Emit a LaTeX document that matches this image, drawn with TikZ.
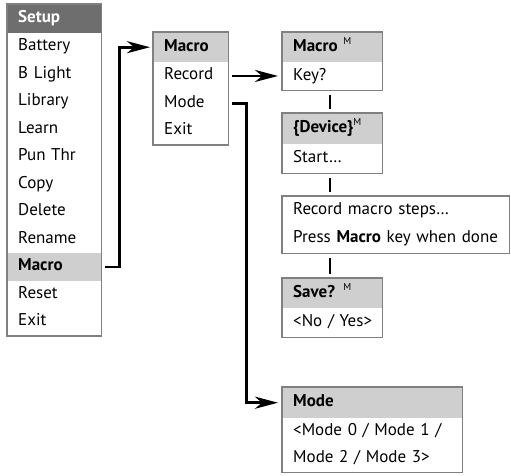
\documentclass[tikz,border=0pt]{standalone}
\usepackage{fontspec}
\setmainfont{PT Sans}
\usetikzlibrary{arrows.meta,fit,calc}
\definecolor{hdrdark}{HTML}{6E6E6E}
\definecolor{hdrlight}{HTML}{CFCFCF}
\definecolor{boxline}{HTML}{808080}
\newcommand{\supM}{\raisebox{0.42em}{\fontsize{10}{10}\selectfont\mdseries M}}
\begin{document}
\begin{tikzpicture}[x=1pt,y=-1pt,
  cell/.style={anchor=north west, inner xsep=11pt, inner ysep=0pt, align=left,
    font=\fontsize{17}{19}\selectfont, text height=12pt, text depth=4pt,
    execute at begin node={\leavevmode\hbox\bgroup}, execute at end node={\egroup}},
  hdr/.style={cell, fill=hdrlight, font=\fontsize{17}{19}\selectfont\bfseries},
  hdrdk/.style={hdr, fill=hdrdark, text=white},
  sel/.style={cell, fill=hdrlight, font=\fontsize{17}{19}\selectfont\bfseries},
  outline/.style={draw=boxline, line width=1.3pt, inner sep=0pt, fill=none},
  conn/.style={draw=black, line width=2.8pt, line cap=butt, line join=miter},
  arr/.style={conn, -{Stealth[length=23pt, width=12pt, inset=7pt]}}
]
\useasboundingbox (0,0) rectangle (511,475);
% Setup menu
\node[hdrdk, text width=72pt, minimum height=29pt] (sH) at (7,4) {Setup};
\node[cell, text width=72pt, minimum height=27.5pt] (s1) at (7,33) {Battery};
\node[cell, text width=72pt, minimum height=27.5pt] (s2) at (7,60.5) {B Light};
\node[cell, text width=72pt, minimum height=27.5pt] (s3) at (7,88) {Library};
\node[cell, text width=72pt, minimum height=27.5pt] (s4) at (7,115.5) {Learn};
\node[cell, text width=72pt, minimum height=27.5pt] (s5) at (7,143) {Pun Thr};
\node[cell, text width=72pt, minimum height=27.5pt] (s6) at (7,170.5) {Copy};
\node[cell, text width=72pt, minimum height=27.5pt] (s7) at (7,198) {Delete};
\node[cell, text width=72pt, minimum height=27.5pt] (s8) at (7,225.5) {Rename};
\node[sel, text width=72pt, minimum height=27.5pt] (s9) at (7,253) {Macro};
\node[cell, text width=72pt, minimum height=27.5pt] (s10) at (7,280.5) {Reset};
\node[cell, text width=72pt, minimum height=27.5pt] (s11) at (7,308) {Exit};
\node[outline, fit=(sH)(s11)] (setup) {};
% Macro menu
\node[hdr, text width=53pt, minimum height=30pt] (mH) at (153,32) {Macro};
\node[cell, text width=53pt, minimum height=27.5pt] (m1) at (153,62) {Record};
\node[cell, text width=53pt, minimum height=27.5pt] (m2) at (153,89.5) {Mode};
\node[cell, text width=53pt, minimum height=27.5pt] (m3) at (153,117) {Exit};
\node[outline, fit=(mH)(m3)] (macro) {};
% Macro M
\node[hdr, text width=78pt, minimum height=30pt] (kH) at (282,32) {Macro \supM};
\node[cell, text width=78pt, minimum height=28pt] (k1) at (282,62) {Key?};
\node[outline, fit=(kH)(k1)] (key) {};
% Device
\node[hdr, text width=78pt, minimum height=31pt] (dH) at (282,113) {\{Device\}\supM};
\node[cell, text width=78pt, minimum height=29pt] (d1) at (282,144) {Start\ldots};
\node[outline, fit=(dH)(d1)] (dev) {};
% Record steps
\node[cell, text width=205pt, minimum height=28.5pt] (r1) at (282,196) {Record macro steps\ldots};
\node[cell, text width=205pt, minimum height=28.5pt] (r2) at (282,224.5) {Press \textbf{Macro} key when done};
\node[outline, fit=(r1)(r2)] (rec) {};
% Save
\node[hdr, text width=78pt, minimum height=30pt] (vH) at (282,278) {Save? \supM};
\node[cell, text width=78pt, minimum height=29pt] (v1) at (282,308) {<No / Yes>};
\node[outline, fit=(vH)(v1)] (save) {};
% Mode
\node[hdr, text width=158pt, minimum height=31pt] (oH) at (282,387) {Mode};
\node[cell, text width=158pt, minimum height=27pt] (o1) at (282,418) {<Mode 0 / Mode 1 /};
\node[cell, text width=158pt, minimum height=27pt] (o2) at (282,445) {Mode 2 / Mode 3>};
\node[outline, fit=(oH)(o2)] (mode) {};
% connectors
\draw[arr, shorten <=4pt, shorten >=3pt] (s9.east) -- ++(18,0) |- (mH.west);
\draw[arr, shorten <=4pt, shorten >=4pt] (m1.east) -- (m1.east -| k1.west);
\draw[arr, shorten <=4pt, shorten >=4pt] (m2.east) -- ++(18,0) |- (oH.west);
\coordinate (vx) at (330,0);
\draw[conn, shorten <=4pt, shorten >=3pt] (key.south -| vx) -- (dev.north -| vx);
\draw[conn, shorten <=4pt, shorten >=3pt] (dev.south -| vx) -- (rec.north -| vx);
\draw[conn, shorten <=4pt, shorten >=3pt] (rec.south -| vx) -- (save.north -| vx);
\end{tikzpicture}
\end{document}
